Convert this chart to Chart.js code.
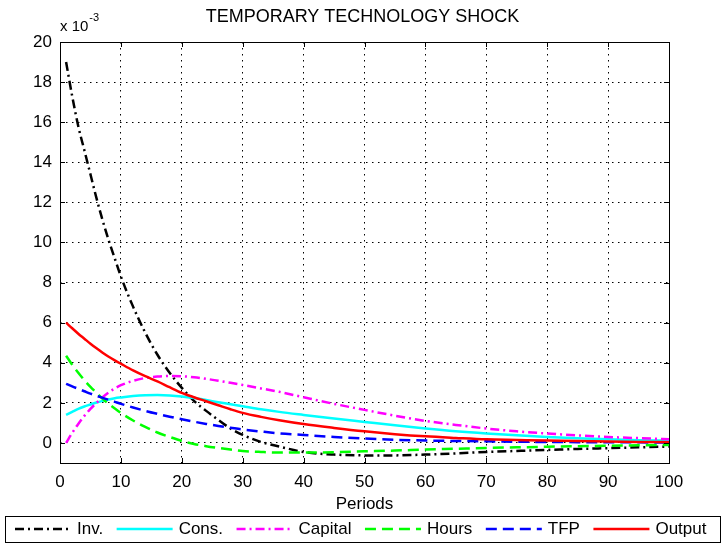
<!DOCTYPE html>
<html>
<head>
<meta charset="utf-8">
<script src="https://cdn.jsdelivr.net/npm/chart.js@4.4.0/dist/chart.umd.min.js"></script>
<style>
  html, body { margin: 0; padding: 0; background: #fff; }
  #wrap { width: 723px; height: 547px; }
</style>
</head>
<body>
<div id="wrap"><canvas id="irfChart" width="723" height="547"></canvas></div>
<script>
// impulse responses to a temporary technology shock, in units of 10^-3
const TITLE = 'TEMPORARY TECHNOLOGY SHOCK';
const X_LABEL = 'Periods';
const EXPONENT = '-3';
const X_TICKS = [0, 10, 20, 30, 40, 50, 60, 70, 80, 90, 100];
const Y_TICKS = [0, 2, 4, 6, 8, 10, 12, 14, 16, 18, 20];

const seriesNames = ['Inv.', 'Cons.', 'Capital', 'Hours', 'TFP', 'Output'];

const periods = [1, 2, 3, 4, 5, 6, 7, 8, 9, 10, 12, 14, 16, 18, 20, 22, 24, 26, 28, 30,
                 33, 36, 40, 45, 50, 55, 60, 65, 70, 75, 80, 85, 90, 95, 100];

const invest  = [19.0, 17.3, 15.8, 14.6, 13.4, 12.2, 11.1, 10.1, 9.2, 8.3,
                 6.8, 5.5, 4.4, 3.5, 2.75, 2.1, 1.6, 1.15, 0.72, 0.4,
                 0.05, -0.18, -0.45, -0.58, -0.62, -0.62, -0.58, -0.52, -0.45, -0.4,
                 -0.35, -0.3, -0.26, -0.22, -0.18];
const cons    = [1.4, 1.55, 1.7, 1.82, 1.92, 2.02, 2.1, 2.17, 2.23, 2.27,
                 2.34, 2.38, 2.39, 2.37, 2.32, 2.24, 2.14, 2.03, 1.93, 1.83,
                 1.68, 1.55, 1.4, 1.22, 1.05, 0.88, 0.72, 0.58, 0.47, 0.38,
                 0.3, 0.23, 0.18, 0.14, 0.11];
const capital = [0, 0.5, 0.95, 1.35, 1.7, 2.0, 2.28, 2.52, 2.72, 2.88,
                 3.1, 3.24, 3.31, 3.34, 3.33, 3.28, 3.2, 3.1, 3.0, 2.89,
                 2.72, 2.55, 2.28, 1.95, 1.65, 1.36, 1.1, 0.9, 0.72, 0.58,
                 0.47, 0.38, 0.3, 0.24, 0.19];
const hours   = [4.35, 3.9, 3.5, 3.13, 2.8, 2.5, 2.2, 1.95, 1.72, 1.5,
                 1.12, 0.8, 0.52, 0.3, 0.1, -0.05, -0.16, -0.25, -0.33, -0.4,
                 -0.45, -0.48, -0.48, -0.46, -0.42, -0.38, -0.33, -0.29, -0.25, -0.22,
                 -0.19, -0.16, -0.14, -0.12, -0.1];
const tfp     = [2.95, 2.82, 2.7, 2.58, 2.46, 2.35, 2.25, 2.15, 2.05, 1.95,
                 1.77, 1.6, 1.45, 1.31, 1.18, 1.06, 0.95, 0.85, 0.76, 0.67,
                 0.57, 0.48, 0.4, 0.3, 0.22, 0.16, 0.12, 0.1, 0.08, 0.06,
                 0.05, 0.04, 0.03, 0.03, 0.02];
const output  = [6.0, 5.72, 5.45, 5.2, 4.95, 4.72, 4.5, 4.3, 4.12, 3.95,
                 3.62, 3.33, 3.07, 2.78, 2.5, 2.28, 2.08, 1.88, 1.68, 1.5,
                 1.3, 1.13, 0.94, 0.75, 0.58, 0.44, 0.33, 0.25, 0.18, 0.15,
                 0.12, 0.1, 0.07, 0.05, 0.04];

const FONT = '"Liberation Sans", Arial, Helvetica, sans-serif';
const values = [invest, cons, capital, hours, tfp, output];
const styles = [
  { color: '#000000', dash: [9, 4, 2, 4] },
  { color: '#00ffff', dash: [] },
  { color: '#ff00ff', dash: [9, 4, 2, 4] },
  { color: '#00ff00', dash: [11, 6] },
  { color: '#0000ff', dash: [11, 6] },
  { color: '#ff0000', dash: [] }
];

const datasets = seriesNames.map((name, i) => ({
  label: name,
  data: periods.map((p, k) => ({ x: p, y: values[i][k] })),
  borderColor: styles[i].color,
  borderDash: styles[i].dash,
  borderWidth: 2.5,
  pointRadius: 0,
  fill: false,
  cubicInterpolationMode: 'monotone',
  order: seriesNames.length - i   // later series drawn on top
}));

// box with inward ticks, title, exponent and the framed legend underneath
const matlabFrame = {
  id: 'matlabFrame',
  afterDraw(chart) {
    const { ctx, chartArea: a, scales } = chart;
    ctx.save();
    ctx.strokeStyle = '#000';
    ctx.lineWidth = 1;
    ctx.setLineDash([]);
    ctx.beginPath();
    X_TICKS.forEach(v => {
      const px = Math.round(scales.x.getPixelForValue(v)) + 0.5;
      ctx.moveTo(px, a.bottom); ctx.lineTo(px, a.bottom - 5);
      ctx.moveTo(px, a.top); ctx.lineTo(px, a.top + 5);
    });
    Y_TICKS.forEach(v => {
      const py = Math.round(scales.y.getPixelForValue(v)) + 0.5;
      ctx.moveTo(a.left, py); ctx.lineTo(a.left + 5, py);
      ctx.moveTo(a.right, py); ctx.lineTo(a.right - 5, py);
    });
    ctx.stroke();
    ctx.strokeRect(Math.round(a.left) + 0.5, Math.round(a.top) + 0.5,
                   Math.round(a.right - a.left), Math.round(a.bottom - a.top));

    ctx.fillStyle = '#000';
    ctx.font = '18px ' + FONT;
    ctx.textAlign = 'center';
    ctx.textBaseline = 'middle';
    ctx.fillText(TITLE, (a.left + a.right) / 2 - 2, 17);

    ctx.textAlign = 'left';
    ctx.textBaseline = 'alphabetic';
    ctx.font = '15px ' + FONT;
    ctx.fillText('x 10', a.left, 31);
    const w = ctx.measureText('x 10').width;
    ctx.font = '11px ' + FONT;
    ctx.fillText(EXPONENT, a.left + w + 1, 21);

    // legend
    const top = 516, bottom = 542, mid = 529;
    ctx.lineWidth = 1;
    ctx.strokeStyle = '#000';
    ctx.strokeRect(5.5, top + 0.5, 715, bottom - top);
    ctx.font = '17px ' + FONT;
    ctx.textBaseline = 'middle';
    let lx = 15;
    chart.data.datasets.forEach(ds => {
      ctx.strokeStyle = ds.borderColor;
      ctx.lineWidth = 2.5;
      ctx.setLineDash(ds.borderDash);
      ctx.beginPath();
      ctx.moveTo(lx, mid);
      ctx.lineTo(lx + 56, mid);
      ctx.stroke();
      ctx.setLineDash([]);
      lx += 62;
      ctx.fillText(ds.label, lx, mid);
      lx += ctx.measureText(ds.label).width + 13.5;
    });
    ctx.restore();
  }
};

new Chart(document.getElementById('irfChart').getContext('2d'), {
  type: 'line',
  data: { datasets: datasets },
  plugins: [matlabFrame],
  options: {
    responsive: false,
    devicePixelRatio: 1,
    animation: false,
    layout: { padding: { top: 42, right: 54, left: 0, bottom: 0 } },
    plugins: {
      legend: { display: false },
      tooltip: { enabled: false },
      title: { display: false }
    },
    scales: {
      x: {
        type: 'linear',
        min: 0,
        max: 100,
        afterBuildTicks: s => { s.ticks = X_TICKS.map(v => ({ value: v })); },
        afterFit: s => { s.height = 84; },
        grid: { color: '#000', lineWidth: 1, drawTicks: false },
        border: { display: false, dash: [1.5, 4.5] },
        ticks: { color: '#000', padding: 9, maxRotation: 0, font: { family: FONT, size: 17 } },
        title: { display: true, text: X_LABEL, color: '#000', padding: { top: 0, bottom: 32 },
                 font: { family: FONT, size: 17 } }
      },
      y: {
        type: 'linear',
        min: -1,
        max: 20,
        afterBuildTicks: s => { s.ticks = Y_TICKS.map(v => ({ value: v })); },
        afterFit: s => { s.width = 60; },
        grid: { color: '#000', lineWidth: 1, drawTicks: false },
        border: { display: false, dash: [1.5, 4.5] },
        ticks: { color: '#000', padding: 8, font: { family: FONT, size: 17 } }
      }
    }
  }
});
</script>
</body>
</html>
